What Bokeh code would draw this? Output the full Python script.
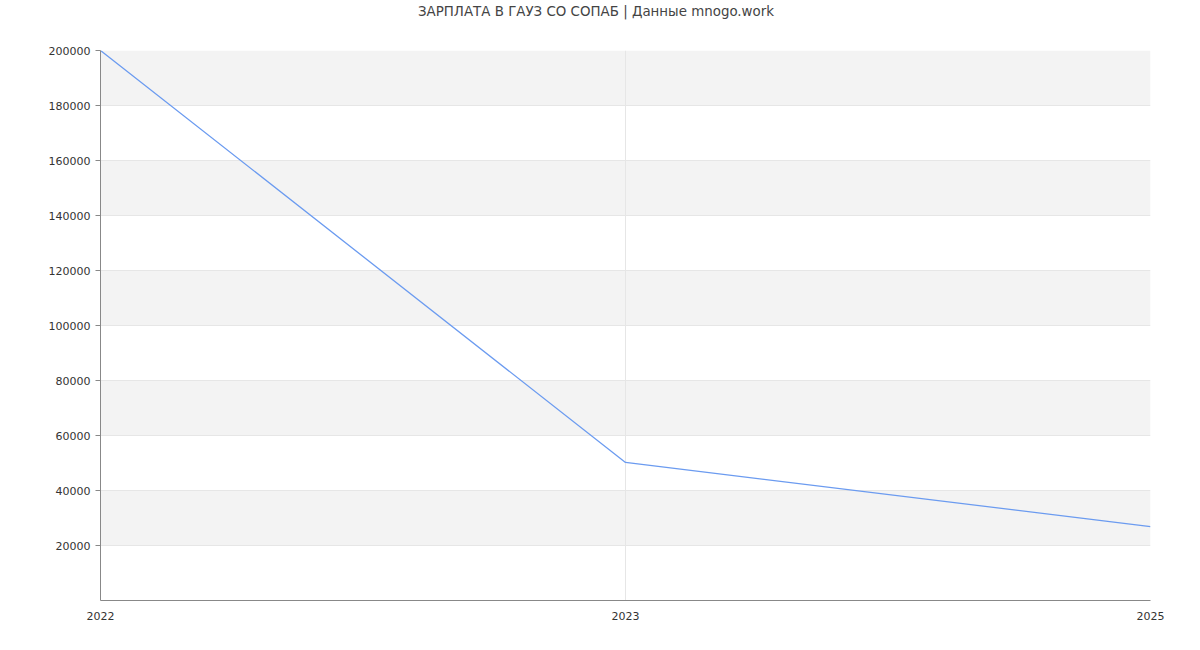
from bokeh.plotting import figure
from bokeh.models import Range1d, FixedTicker, Div
from bokeh.layouts import column
from bokeh.embed import file_html
from bokeh.resources import INLINE

years = ["2022", "2023", "2025"]
salary = [200000, 50200, 26900]
y_ticks = [20000, 40000, 60000, 80000, 100000, 120000, 140000, 160000, 180000, 200000]
title_text = "ЗАРПЛАТА В ГАУЗ СО СОПАБ | Данные mnogo.work"

xs = list(range(len(years)))
FONT = "DejaVu Sans"

p = figure(width=1192, height=618, output_backend="svg", toolbar_location=None,
           x_range=Range1d(0, len(years) - 1), y_range=Range1d(0, 200000),
           min_border_left=100, min_border_right=42, min_border_top=26, min_border_bottom=42)
p.outline_line_color = None
p.background_fill_color = "white"
p.border_fill_color = "white"

p.line(xs, salary, line_color="#6b9bf0", line_width=1.3)

# x axis
p.xaxis.ticker = FixedTicker(ticks=xs)
p.xaxis.major_label_overrides = {i: y for i, y in enumerate(years)}
p.xaxis.major_tick_out = 0
p.xaxis.major_tick_in = 0
p.xaxis.minor_tick_line_color = None
p.xaxis.axis_line_color = "#888888"
p.xaxis.major_label_text_font = FONT
p.xaxis.major_label_text_font_size = "11px"
p.xaxis.major_label_text_color = "#333333"
p.xaxis.major_label_standoff = 11

# y axis
p.yaxis.ticker = FixedTicker(ticks=y_ticks)
p.yaxis.major_tick_out = 5
p.yaxis.major_tick_in = 0
p.yaxis.major_tick_line_color = "#888888"
p.yaxis.minor_tick_line_color = None
p.yaxis.axis_line_color = "#888888"
p.yaxis.major_label_text_font = FONT
p.yaxis.major_label_text_font_size = "11px"
p.yaxis.major_label_text_color = "#333333"
p.yaxis.major_label_standoff = 5
p.yaxis.formatter.use_scientific = False

# grids
p.ygrid.ticker = FixedTicker(ticks=[0] + y_ticks)
p.ygrid.grid_line_color = "#e6e6e6"
p.ygrid.band_fill_color = "#f3f3f3"
p.ygrid.band_fill_alpha = 1.0
p.ygrid.level = "image"
p.xgrid.ticker = FixedTicker(ticks=xs)
p.xgrid.grid_line_color = "#e6e6e6"

title = Div(text=title_text, width=1192, height=24, margin=0,
            styles={"text-align": "center", "font-family": FONT, "font-size": "13.4px",
                    "color": "#444444", "line-height": "24px", "width": "1192px"})

layout = column(title, p, spacing=0)

open("out.html", "w").write(file_html(layout, INLINE))
